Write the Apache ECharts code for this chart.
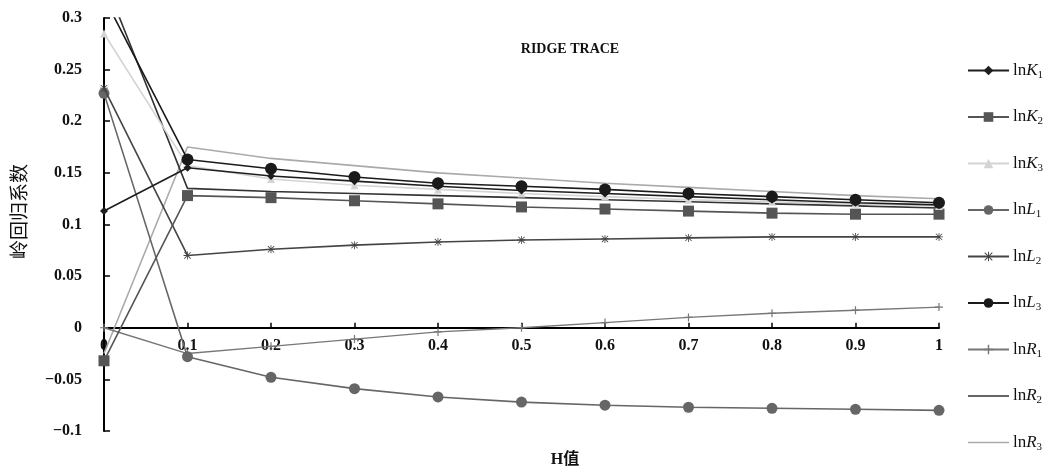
<!DOCTYPE html>
<html>
<head>
<meta charset="utf-8">
<script src="https://cdn.jsdelivr.net/npm/echarts@6/dist/echarts.min.js"></script>
<style>html,body{margin:0;padding:0;background:#fff}#c{width:1049px;height:470px}</style>
</head>
<body>
<div id="c"></div>
<script>
const hValues = [0, 0.1, 0.2, 0.3, 0.4, 0.5, 0.6, 0.7, 0.8, 0.9, 1];
const xTickLabels = ['0', '0.1', '0.2', '0.3', '0.4', '0.5', '0.6', '0.7', '0.8', '0.9', '1'];
const yTickLabels = ['\u22120.1', '\u22120.05', '0', '0.05', '0.1', '0.15', '0.2', '0.25', '0.3'];
const seriesNames = ['lnK1', 'lnK2', 'lnK3', 'lnL1', 'lnL2', 'lnL3', 'lnR1', 'lnR2', 'lnR3'];
const lnK1 = [0.113, 0.155, 0.147, 0.142, 0.137, 0.133, 0.130, 0.127, 0.124, 0.121, 0.119];
const lnK2 = [-0.032, 0.128, 0.126, 0.123, 0.120, 0.117, 0.115, 0.113, 0.111, 0.110, 0.110];
const lnK3 = [0.285, 0.157, 0.144, 0.138, 0.134, 0.130, 0.127, 0.124, 0.122, 0.120, 0.118];
const lnL1 = [0.227, -0.028, -0.048, -0.059, -0.067, -0.072, -0.075, -0.077, -0.078, -0.079, -0.080];
const lnL2 = [0.232, 0.070, 0.076, 0.080, 0.083, 0.085, 0.086, 0.087, 0.088, 0.088, 0.088];
const lnL3 = [0.320, 0.163, 0.154, 0.146, 0.140, 0.137, 0.134, 0.130, 0.127, 0.124, 0.121];
const lnR1 = [0.000, -0.025, -0.018, -0.011, -0.004, 0.000, 0.005, 0.010, 0.014, 0.017, 0.020];
const lnR2 = [0.338, 0.135, 0.132, 0.130, 0.128, 0.126, 0.124, 0.122, 0.120, 0.118, 0.116];
const lnR3 = [-0.025, 0.175, 0.164, 0.157, 0.150, 0.145, 0.140, 0.136, 0.132, 0.128, 0.125];
const seriesValues = [lnK1, lnK2, lnK3, lnL1, lnL2, lnL3, lnR1, lnR2, lnR3];

const SERIF = '"Liberation Serif", "DejaVu Serif", "Noto Sans CJK SC", serif';
const asterisk = 'path://M9,0H11V20H9Z M0,9H20V11H0Z M1.4,2.8L2.8,1.4L18.6,17.2L17.2,18.6Z M17.2,1.4L18.6,2.8L2.8,18.6L1.4,17.2Z';
const plus = 'path://M8.5,0H11.5V20H8.5Z M0,8.5H20V11.5H0Z';
const plainLine = 'path://M0,0H41V1.6H0Z';

const styles = [
  {color: '#1e1e1e', symbol: 'diamond', size: 8, width: 1.6},
  {color: '#555555', symbol: 'rect', size: 11, width: 1.6},
  {color: '#d4d4d4', symbol: 'triangle', size: 8, width: 1.6},
  {color: '#666666', symbol: 'circle', size: 11, width: 1.6},
  {color: '#444444', symbol: asterisk, size: 8, width: 1.6},
  {color: '#1a1a1a', symbol: 'circle', size: 12, width: 1.6},
  {color: '#777777', symbol: plus, size: 8, width: 1.4},
  {color: '#333333', symbol: 'none', size: 0, width: 1.6},
  {color: '#aaaaaa', symbol: 'none', size: 0, width: 1.6}
];

const drawOrder = [8, 7, 6, 3, 4, 1, 2, 0, 5];
const series = drawOrder.map(i => ({
  name: seriesNames[i],
  type: 'line',
  data: hValues.map((h, k) => [h, seriesValues[i][k]]),
  symbol: styles[i].symbol,
  symbolSize: styles[i].size,
  showSymbol: styles[i].symbol !== 'none',
  clip: true,
  lineStyle: {color: styles[i].color, width: styles[i].width},
  itemStyle: {color: styles[i].color},
  z: 2 + drawOrder.indexOf(i)
}));

const legendData = seriesNames.map((n, i) => styles[i].symbol === 'none' ? {name: n, icon: plainLine} : {name: n});

// grid geometry: the x axis sits on y = 0 inside the plot
const gridTop = 18, gridBottom = 39, chartH = 470;
const yMin = -0.1, yMax = 0.3;
const plotH = chartH - gridTop - gridBottom;
const zeroOffset = -plotH * (0 - yMin) / (yMax - yMin);

const chart = echarts.init(document.getElementById('c'), null, {renderer: 'canvas'});
chart.setOption({
  animation: false,
  backgroundColor: '#fff',
  title: {
    text: 'RIDGE TRACE',
    left: 565, top: 37, textAlign: 'center',
    textStyle: {fontFamily: SERIF, fontSize: 14, fontWeight: 'bold', color: '#111'}
  },
  grid: {left: 104, right: 110, top: gridTop, bottom: gridBottom, containLabel: false, outerBoundsMode: 'none'},
  legend: {
    orient: 'vertical', left: 962, top: 57,
    itemWidth: 41, itemHeight: 12, itemGap: 28, symbolKeepAspect: true,
    data: legendData,
    formatter: function (name) {
      const letter = name.charAt(2), sub = name.charAt(3);
      return '{n|ln}{i|' + letter + '}{s|' + sub + '}';
    },
    textStyle: {
      fontFamily: SERIF, color: '#111', padding: [0, 0, 0, -1],
      rich: {
        n: {fontFamily: SERIF, fontSize: 17, lineHeight: 20, color: '#111', verticalAlign: 'middle'},
        i: {fontFamily: SERIF, fontSize: 17, lineHeight: 20, fontStyle: 'italic', color: '#111', verticalAlign: 'middle'},
        s: {fontFamily: SERIF, fontSize: 11, lineHeight: 11, color: '#111', verticalAlign: 'bottom'}
      }
    }
  },
  xAxis: {
    type: 'value', min: 0, max: 1, interval: 0.1,
    offset: zeroOffset,
    name: 'H值', nameLocation: 'middle', nameGap: 124,
    nameTextStyle: {fontFamily: SERIF, fontSize: 16, fontWeight: 'bold', color: '#111', padding: [0, 0, 0, 87]},
    axisLine: {onZero: false, lineStyle: {color: '#000', width: 2}},
    axisTick: {inside: true, length: 5, lineStyle: {color: '#000', width: 1.5}},
    splitLine: {show: false},
    axisLabel: {
      margin: 10, fontFamily: SERIF, fontSize: 16, fontWeight: 'bold', color: '#111',
      formatter: v => xTickLabels[Math.round(v * 10)]
    }
  },
  yAxis: {
    type: 'value', min: yMin, max: yMax, interval: 0.05,
    name: '岭回归系数', nameLocation: 'middle', nameRotate: 90, nameGap: 76,
    nameTextStyle: {fontFamily: '"Noto Sans CJK SC", sans-serif', fontSize: 19, fontWeight: 'normal', color: '#111', padding: [0, 0, 0, 26]},
    axisLine: {show: true, lineStyle: {color: '#000', width: 2}},
    axisTick: {show: true, inside: true, length: 6, lineStyle: {color: '#000', width: 1.5}},
    splitLine: {show: false},
    axisLabel: {
      margin: 22, fontFamily: SERIF, fontSize: 16, fontWeight: 'bold', color: '#111',
      formatter: v => yTickLabels[Math.round((v - yMin) / 0.05)]
    }
  },
  series: series
});
</script>
</body>
</html>
